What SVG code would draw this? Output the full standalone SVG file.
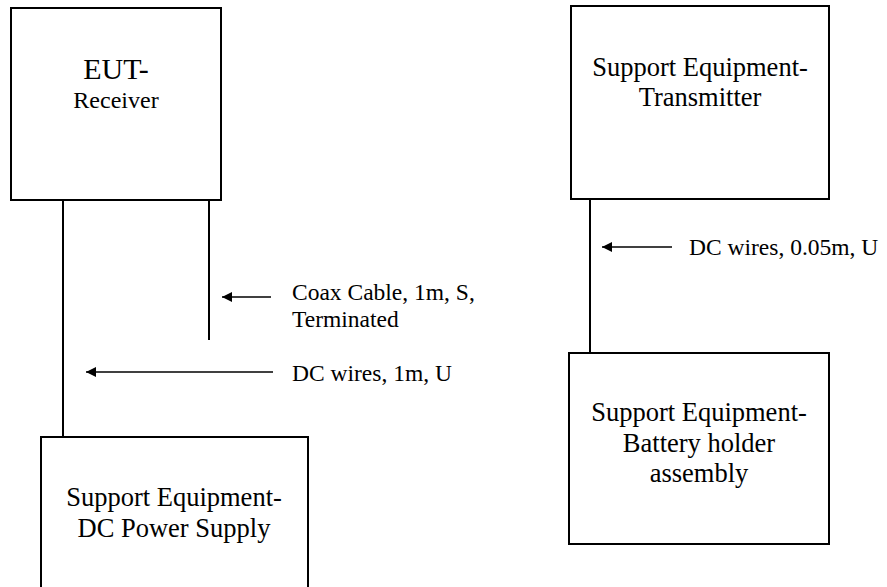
<svg xmlns="http://www.w3.org/2000/svg" width="887" height="587" viewBox="0 0 887 587">
<style>
.box{fill:#fff;stroke:#000;stroke-width:2}
.t{font-family:"Liberation Serif","Times New Roman","DejaVu Serif",serif;fill:#000;text-anchor:middle}
.bt{font-size:26.5px}
.lbl{font-family:"Liberation Serif","Times New Roman","DejaVu Serif",serif;fill:#000;font-size:23.5px}
.wire{stroke:#000;stroke-width:2;fill:none}
.arr{stroke:#000;stroke-width:1.5;fill:none;marker-end:url(#ah)}
</style>
<defs>
<marker id="ah" viewBox="0 0 10 10" refX="10" refY="5" markerWidth="11" markerHeight="10" markerUnits="userSpaceOnUse" orient="auto">
<path d="M0,0 L10,5 L0,10 z" fill="#000"/>
</marker>
</defs>
<rect width="887" height="587" fill="#fff"/>
<g id="connectors">
<line class="wire" x1="63" y1="200" x2="63" y2="437"/>
<line class="wire" x1="209" y1="200" x2="209" y2="340"/>
<line class="wire" x1="590" y1="199" x2="590" y2="353"/>
<line class="arr" x1="271" y1="297" x2="222" y2="297"/>
<line class="arr" x1="273" y1="372" x2="86" y2="372"/>
<line class="arr" x1="672" y1="247" x2="602" y2="247"/>
<text class="lbl" x="292" y="300">Coax Cable, 1m, S,</text>
<text class="lbl" x="292" y="327">Terminated</text>
<text class="lbl" x="292" y="381">DC wires, 1m, U</text>
<text class="lbl" x="689" y="255">DC wires, 0.05m, U</text>
</g>
<g id="eut-receiver">
<rect class="box" x="11" y="8" width="210" height="192"/>
<text class="t" x="116" y="79" font-size="30">EUT-</text>
<text class="t" x="116" y="108" font-size="24">Receiver</text>
</g>
<g id="dc-power-supply">
<rect class="box" x="41" y="437" width="267" height="170"/>
<text class="t bt" x="174" y="506">Support Equipment-</text>
<text class="t bt" x="174" y="537">DC Power Supply</text>
</g>
<g id="transmitter">
<rect class="box" x="571" y="6" width="258" height="193"/>
<text class="t bt" x="700" y="76">Support Equipment-</text>
<text class="t bt" x="700" y="106">Transmitter</text>
</g>
<g id="battery-holder">
<rect class="box" x="569" y="353" width="260" height="191"/>
<text class="t bt" x="699" y="421">Support Equipment-</text>
<text class="t bt" x="699" y="452">Battery holder</text>
<text class="t bt" x="699" y="482">assembly</text>
</g>
</svg>
